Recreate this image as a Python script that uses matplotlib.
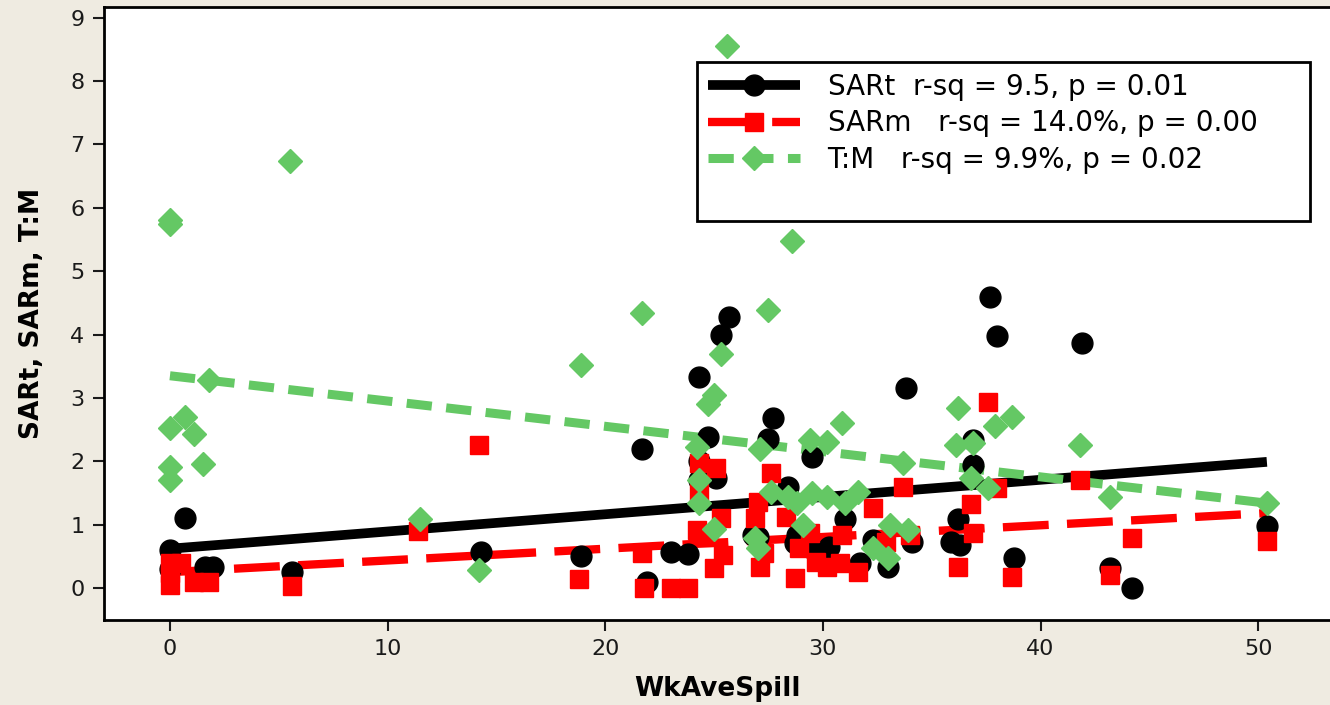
import matplotlib
matplotlib.use("Agg")
import matplotlib.pyplot as plt
from matplotlib.lines import Line2D
import numpy as np

# ---------------- data ----------------
sart_x = [0, 0, 0.7, 1.6, 2.0, 5.6, 14.3, 18.9, 21.7, 21.9, 23.0, 23.8, 24.3, 24.3, 24.3,
          24.7, 25.1, 25.3, 25.7, 27.0, 27.5, 27.7, 28.4, 26.8, 28.8, 28.7, 29.5, 29.6,
          30.3, 31.0, 31.7, 32.3, 33.0, 33.8, 34.1, 35.9, 36.2, 36.3, 36.9, 36.9, 37.7,
          38.0, 38.8, 41.9, 43.2, 44.2, 50.4]
sart_y = [0.6, 0.3, 1.1, 0.33, 0.33, 0.26, 0.57, 0.5, 2.2, 0.1, 0.57, 0.54, 3.33, 2.0, 1.7,
          2.38, 1.74, 4.0, 4.27, 0.8, 2.35, 2.69, 1.6, 0.84, 0.84, 0.71, 2.07, 0.6,
          0.65, 1.09, 0.4, 0.76, 0.33, 3.16, 0.73, 0.73, 1.09, 0.68, 2.33, 1.94, 4.6,
          3.98, 0.47, 3.86, 0.31, 0.0, 0.98]

sarm_x = [0, 0, 0, 0.5, 1.1, 1.8, 5.6, 11.4, 14.2, 18.8, 21.7, 21.8, 23.0, 23.8, 24.2,
          24.3, 24.3, 24.7, 25.0, 25.1, 25.3, 25.4, 26.9, 27.0, 27.1, 27.3, 27.6, 28.3,
          28.7, 28.9, 29.4, 29.7, 30.2, 30.8, 30.9, 31.6, 32.3, 32.9, 34.0, 33.7, 36.2,
          36.8, 36.9, 37.6, 38.0, 38.7, 41.8, 43.2, 44.2, 50.4]
sarm_y = [0.4, 0.23, 0.05, 0.4, 0.1, 0.1, 0.03, 0.9, 2.26, 0.14, 0.55, 0.0, 0.0, 0.0, 0.92,
          1.97, 1.5, 0.8, 0.32, 1.89, 1.1, 0.52, 1.1, 1.36, 0.33, 0.55, 1.82, 1.12,
          0.16, 0.63, 0.87, 0.41, 0.33, 0.39, 0.84, 0.25, 1.26, 0.73, 0.84, 1.6, 0.33,
          1.33, 0.87, 2.94, 1.58, 0.17, 1.7, 0.2, 0.79, 0.74]

tm_x = [0, 0, 0, 0, 0, 0.7, 1.1, 1.5, 1.8, 5.5, 11.5, 14.2, 18.9, 21.7, 24.2, 24.3, 24.3,
        24.7, 25.0, 25.0, 25.3, 25.6, 26.9, 27.0, 27.1, 27.5, 27.6, 28.4, 28.6, 28.8,
        29.1, 29.4, 29.5, 30.2, 30.2, 30.9, 31.0, 31.6, 32.3, 33.0, 33.1, 33.7, 33.9,
        36.1, 36.2, 36.8, 36.9, 37.6, 37.9, 38.7, 41.8, 43.2, 50.4]
tm_y = [5.81, 5.75, 2.53, 1.91, 1.71, 2.7, 2.43, 1.95, 3.29, 6.74, 1.09, 0.28, 3.52, 4.34,
        2.23, 1.7, 1.34, 2.9, 3.05, 0.93, 3.7, 8.55, 0.79, 0.63, 2.2, 4.38, 1.52, 1.44,
        5.48, 1.34, 1.0, 2.34, 1.5, 2.31, 1.44, 2.6, 1.34, 1.52, 0.63, 0.47, 1.0, 1.97,
        0.92, 2.26, 2.84, 1.74, 2.29, 1.58, 2.56, 2.7, 2.26, 1.44, 1.34]

# fitted regression lines (intercept, slope) and x-range of the fit
fit_names = ["SARt", "SARm", "T:M"]
fit_intercept = [0.62, 0.25, 3.35]
fit_slope = [0.0272, 0.0185, -0.0399]
fit_xrange = [0.0, 50.4]

legend_labels = ["SARt  r-sq = 9.5, p = 0.01",
                 "SARm   r-sq = 14.0%, p = 0.00",
                 "T:M   r-sq = 9.9%, p = 0.02"]

x_ticks = [0, 10, 20, 30, 40, 50]
y_ticks = [0, 1, 2, 3, 4, 5, 6, 7, 8, 9]

# ---------------- style ----------------
bg = "#efebe1"
c_black = "#000000"
c_red = "#ff0000"
c_green = "#64c864"

fig = plt.figure(figsize=(13.3, 7.05), dpi=100, facecolor=bg)
ax = fig.add_axes([104 / 1330, 85 / 705, 1 - 104 / 1330, (620 - 7) / 705])
ax.set_facecolor("white")

xs = np.array(fit_xrange)
line_styles = [
    dict(color=c_black, lw=7, ls="-", solid_capstyle="butt"),
    dict(color=c_red, lw=6, ls=(0, (5.5, 2.2)), dash_capstyle="butt"),
    dict(color=c_green, lw=6.5, ls=(0, (2.8, 1.6)), dash_capstyle="butt"),
]
for b, m, st in zip(fit_intercept, fit_slope, line_styles):
    ax.plot(xs, b + m * xs, zorder=2, **st)

ax.plot(sart_x, sart_y, ls="none", marker="o", ms=15, mfc=c_black, mec=c_black, zorder=3)
ax.plot(sarm_x, sarm_y, ls="none", marker="s", ms=13, mfc=c_red, mec=c_red, zorder=4)
ax.plot(tm_x, tm_y, ls="none", marker="D", ms=12, mfc=c_green, mec=c_green, zorder=5)

ax.set_xlim(-3.03, 53.3)
ax.set_ylim(-0.505, 9.17)
ax.set_xticks(x_ticks)
ax.set_yticks(y_ticks)
ax.tick_params(axis="both", direction="out", length=8, width=1.5, labelsize=16,
               colors="#1a1a1a", pad=6)
for s in ["left", "bottom", "top"]:
    ax.spines[s].set_linewidth(2)
    ax.spines[s].set_color("black")
ax.spines["right"].set_visible(False)

ax.set_ylabel("SARt, SARm, T:M", fontsize=19, fontweight="bold", labelpad=18)
ax.set_xlabel("WkAveSpill", fontsize=19, fontweight="bold", labelpad=12)

handles = [
    Line2D([], [], marker="o", ms=15, mfc=c_black, mec=c_black, **line_styles[0]),
    Line2D([], [], marker="s", ms=13, mfc=c_red, mec=c_red, **line_styles[1]),
    Line2D([], [], marker="D", ms=12, mfc=c_green, mec=c_green, **line_styles[2]),
    Line2D([], [], color="none"),
]
labels = legend_labels + [" "]
leg_x0 = (697 - 104) / 1226
leg_w = (1310 - 697) / 1226
leg_top = (620 - 62) / 613
leg = ax.legend(handles, labels, loc="upper left",
                bbox_to_anchor=(leg_x0, leg_top, leg_w, 0), mode="expand",
                fontsize=20, frameon=True, fancybox=False, edgecolor="black",
                framealpha=1, handlelength=3.3, handletextpad=1.0,
                labelspacing=0.3, borderpad=0.4, borderaxespad=0, numpoints=1)
leg.get_frame().set_linewidth(2)

fig.savefig("out.png", dpi=100, facecolor=bg)
